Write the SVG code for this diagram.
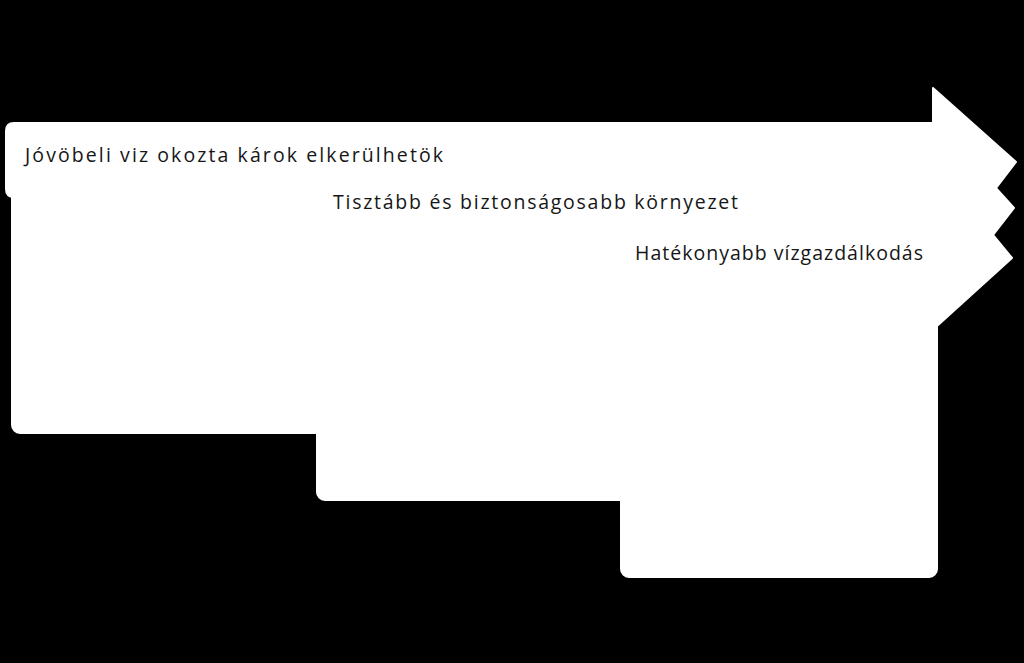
<svg xmlns="http://www.w3.org/2000/svg" width="1024" height="663" viewBox="0 0 1024 663">
  <style>
    .shape { fill: #ffffff; stroke: #ffffff; stroke-width: 2; stroke-linejoin: round; }
    .label { font-family: "Open Sans", "Liberation Sans", sans-serif; font-size: 19.5px; fill: #161616; }
  </style>
  <rect x="0" y="0" width="1024" height="663" fill="#000000"/>
  <g id="arrow1">
    <rect class="shape" x="12" y="185" width="925" height="248" rx="8"/>
    <path class="shape" d="M14,123 H933 V88 L1016,162 L937,265 V197 H14 Q6,197 6,189 V131 Q6,123 14,123 Z"/>
    <text class="label" x="25" y="162" textLength="418" lengthAdjust="spacing">Jóvöbeli viz okozta károk elkerülhetök</text>
  </g>
  <g id="arrow2">
    <rect class="shape" x="317" y="200" width="620" height="300" rx="8"/>
    <polygon class="shape" points="937,123 1014,208 937,307"/>
    <text class="label" x="333" y="209" textLength="405" lengthAdjust="spacing">Tisztább és biztonságosabb környezet</text>
  </g>
  <g id="arrow3">
    <rect class="shape" x="621" y="300" width="316" height="277" rx="8"/>
    <polygon class="shape" points="937,210 993,235 1012,258 937,326"/>
    <text class="label" x="635" y="260" textLength="288" lengthAdjust="spacing">Hatékonyabb vízgazdálkodás</text>
  </g>
</svg>
